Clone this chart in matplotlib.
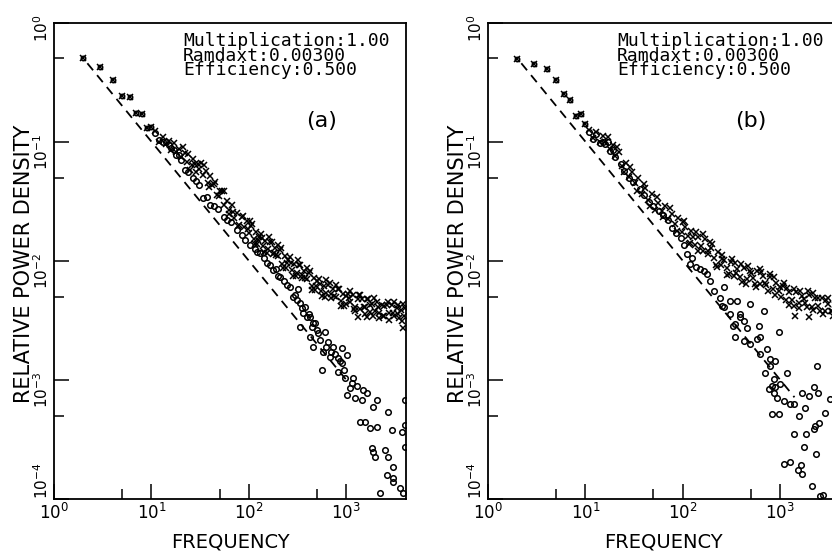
import matplotlib
matplotlib.use("Agg")
import matplotlib.pyplot as plt
from matplotlib.ticker import LogLocator, NullFormatter

plt.rcParams['mathtext.fontset'] = 'dejavusans'

# ---------------- panel (a) ----------------
# lowest frequencies: both symbols lie on top of each other
a_low_f = [2, 3, 4, 5, 6, 7, 8, 9, 10]
a_low_p = [0.50, 0.42, 0.33, 0.24, 0.235, 0.175, 0.17, 0.13, 0.132]

a_cross_f = [11, 12, 13, 14, 15, 16, 17, 18, 19, 20,
             22, 23, 24, 26, 27, 29, 30, 32, 34, 36,
             38, 40, 42, 45, 47, 50, 53, 56, 60, 63,
             67, 71, 75, 80, 85, 90, 95, 100, 106, 112,
             118, 125, 132, 140, 148, 157, 166, 176, 186, 197,
             209, 221, 234, 248, 262, 278, 294, 311, 330, 349,
             370, 392, 415, 440, 466, 493, 522, 553, 586, 620,
             657, 696, 737, 780, 826, 875, 927, 982, 1040, 1100,
             1165, 1235, 1308, 1385, 1467, 1553, 1645, 1742, 1845, 1954,
             2070, 2190, 2320, 2460, 2600, 2760, 2920, 3090, 3280, 3470,
             3680, 3900, 4050,
             21, 25, 28, 31, 35, 39, 44, 49, 55, 62,
             69, 77, 87, 97, 109, 122, 136, 152, 171, 191,
             214, 240, 269, 302, 338, 380, 426, 478, 536, 601,
             674, 756, 848, 951, 1067, 1197, 1342, 1506, 1690, 1895,
             2125, 2385, 2675, 3000, 3365, 3775,
             103, 115, 128, 144, 160, 180, 201, 225, 252, 283,
             316, 355, 397, 445, 498, 558, 625, 700, 784, 878,
             984, 1102, 1234, 1382, 1548, 1734, 1942, 2176, 2437, 2730,
             3058, 3425, 3836,
             1331, 1648, 3860]
a_cross_p = [0.123, 0.099, 0.109, 0.095, 0.102, 0.0857, 0.0975, 0.0822, 0.0875, 0.0741,
             0.0805, 0.0676, 0.0787, 0.0634, 0.0714, 0.0561, 0.0647, 0.0668, 0.0521, 0.0562,
             0.0451, 0.0513, 0.0435, 0.0461, 0.0357, 0.0382, 0.0384, 0.0292, 0.0318, 0.0267,
             0.0292, 0.023, 0.0251, 0.0198, 0.0231, 0.0191, 0.0215, 0.0172, 0.0194, 0.0152,
             0.0175, 0.015, 0.0169, 0.0132, 0.0146, 0.0125, 0.0145, 0.0113, 0.0128, 0.011,
             0.0124, 0.00948, 0.011, 0.00964, 0.0107, 0.00834, 0.00944, 0.00793, 0.00916, 0.0072,
             0.00815, 0.007, 0.00796, 0.00612, 0.00714, 0.00618, 0.00705, 0.00556, 0.00619, 0.00536,
             0.00629, 0.00489, 0.00574, 0.005, 0.00574, 0.00456, 0.00527, 0.00432, 0.00521, 0.00447,
             0.00516, 0.00412, 0.00476, 0.00392, 0.00475, 0.00408, 0.00473, 0.00371, 0.0043, 0.00378,
             0.00451, 0.00362, 0.00422, 0.00347, 0.00423, 0.00365, 0.00425, 0.00343, 0.004, 0.0033,
             0.00385, 0.00341, 0.00399,
             0.0895, 0.0578, 0.0655, 0.0594, 0.0635, 0.0419, 0.0442, 0.0349, 0.0385, 0.0248,
             0.0258, 0.0195, 0.0237, 0.0184, 0.0204, 0.0139, 0.0155, 0.0117, 0.0145, 0.0112,
             0.0128, 0.00877, 0.00955, 0.00738, 0.00925, 0.00713, 0.00822, 0.00573, 0.00635, 0.00497,
             0.00652, 0.00506, 0.00582, 0.00416, 0.00483, 0.00397, 0.0052, 0.00411, 0.00481, 0.00347,
             0.00409, 0.00341, 0.00451, 0.00361, 0.00427, 0.00313,
             0.0217, 0.0139, 0.0158, 0.0119, 0.0159, 0.0117, 0.0136, 0.00875, 0.0102, 0.00752,
             0.0101, 0.00762, 0.00873, 0.00569, 0.00675, 0.00505, 0.00689, 0.00522, 0.00628, 0.00416,
             0.00506, 0.00562, 0.00377, 0.00516, 0.00356, 0.00427, 0.00489, 0.00331, 0.00418, 0.00318,
             0.00453, 0.00354, 0.0043,
             0.00338, 0.00338, 0.00274]

a_circ_f = [11, 12, 13, 14, 15, 16, 17, 18, 19, 20,
            22, 27, 34, 40, 55, 76, 103, 131, 155, 178,
            210, 266, 286, 337, 362, 398, 428, 459, 481, 337,
            428, 517, 542, 655, 459, 582, 737, 912, 1026, 829,
            687, 912, 568, 829, 979, 1183, 1102, 1026, 1241, 1465,
            1500, 1648, 1900, 2089, 2710, 1396, 1571, 1770, 2089, 2978,
            3774, 4000, 4000, 4000, 1854, 1900, 1995, 2523, 2710, 3048,
            2645, 3048, 3048, 3597, 3860, 2240,
            24, 29, 31, 37, 44, 48, 60, 66, 85, 92,
            115, 120, 142, 165, 190, 200, 230, 245, 300, 310,
            320, 350, 380, 410, 440, 500, 600, 620, 700, 760,
            860, 950, 1150, 1300]
a_circ_p = [0.118, 0.104, 0.1, 0.1, 0.093, 0.088, 0.085, 0.078, 0.077, 0.07,
            0.0582, 0.0498, 0.0338, 0.0296, 0.0234, 0.0182, 0.0136, 0.0117, 0.0096, 0.0084,
            0.00734, 0.00605, 0.00498, 0.00444, 0.00366, 0.00338, 0.00338, 0.00301, 0.00301, 0.00279,
            0.0023, 0.00248, 0.00217, 0.00208, 0.00189, 0.00172, 0.00189, 0.00186, 0.00162, 0.00153,
            0.00156, 0.00139, 0.00121, 0.00117, 0.00104, 0.00104, 0.000857, 0.000748, 0.000706, 0.000679,
            0.000824, 0.000778, 0.000593, 0.000679, 0.000538, 0.000444, 0.000444, 0.000395, 0.000403, 0.00038,
            0.000366, 0.00068, 0.00042, 0.000274, 0.000268, 0.000248, 0.000225, 0.000258, 0.000225, 0.000186,
            0.000159, 0.00015, 0.000139, 0.000124, 0.000112, 0.000112,
            0.056, 0.047, 0.043, 0.034, 0.029, 0.027, 0.022, 0.021, 0.0165, 0.015,
            0.0125, 0.0118, 0.0105, 0.0092, 0.0085, 0.0075, 0.0068, 0.0063, 0.0052, 0.0047,
            0.0058, 0.004, 0.0041, 0.0036, 0.0028, 0.0026, 0.0025, 0.0019, 0.0017, 0.00165,
            0.00145, 0.0012, 0.00095, 0.00088]

a_dash_f = [2.2, 1000]
a_dash_p = [0.455, 0.001]

# ---------------- panel (b) ----------------
b_low_f = [2, 3, 4, 5, 6, 7, 8, 9, 10]
b_low_p = [0.495, 0.45, 0.41, 0.33, 0.25, 0.225, 0.165, 0.17, 0.141]

b_cross_f = [11, 12, 13, 14, 15, 16, 17, 18, 19, 20,
             22, 24, 26, 28, 30, 32, 35, 38, 41, 44,
             48, 52, 56, 61, 66, 71, 77, 83, 90, 97,
             105, 113, 122, 132, 143, 155, 167, 180, 195, 210,
             227, 245, 265, 286, 309, 334, 360, 389, 420, 454,
             490, 529, 572, 617, 667, 720, 778, 840, 907, 980,
             1058, 1143, 1234, 1333, 1440, 1555, 1679, 1813, 1958, 2115,
             2284, 2467, 2664, 2877, 3107, 3356, 3625, 3915, 4050,
             21, 25, 29, 34, 40, 46, 54, 63, 74, 87,
             101, 118, 138, 161, 188, 219, 255, 298, 347, 405,
             472, 550, 641, 747, 871, 1015, 1183, 1379, 1608, 1874,
             2185, 2548, 2970, 3463, 4000,
             103, 115, 128, 144, 160, 180, 201, 225, 252, 283,
             316, 355, 397, 445, 498, 558, 625, 700, 784, 878,
             984, 1102, 1234, 1382, 1548, 1734, 1942, 2176, 2437, 2730,
             3058, 3425, 3836,
             1430, 1977]
b_cross_p = [0.126, 0.108, 0.121, 0.0998, 0.111, 0.0991, 0.109, 0.0873, 0.0944, 0.076,
             0.0817, 0.0621, 0.0664, 0.0509, 0.0555, 0.0451, 0.0491, 0.0365, 0.0406, 0.0324,
             0.0361, 0.0269, 0.0308, 0.026, 0.029, 0.0224, 0.0247, 0.0203, 0.0228, 0.0174,
             0.0191, 0.016, 0.0177, 0.0135, 0.0157, 0.0132, 0.0151, 0.0115, 0.0127, 0.0105,
             0.0119, 0.00916, 0.0102, 0.00869, 0.00977, 0.00743, 0.00855, 0.00733, 0.00871, 0.007,
             0.00813, 0.0071, 0.00817, 0.00635, 0.00741, 0.00627, 0.00728, 0.00574, 0.00653, 0.00556,
             0.00619, 0.00466, 0.00543, 0.00465, 0.00548, 0.00438, 0.00506, 0.00446, 0.0052, 0.00411,
             0.00491, 0.00421, 0.00486, 0.0038, 0.00434, 0.00378, 0.00427, 0.0034, 0.00389,
             0.0906, 0.0551, 0.0618, 0.0385, 0.0445, 0.029, 0.0346, 0.0232, 0.028, 0.0178,
             0.0211, 0.014, 0.0175, 0.012, 0.0143, 0.00927, 0.0112, 0.00774, 0.00957, 0.00665,
             0.00897, 0.0064, 0.00807, 0.00562, 0.00729, 0.00495, 0.00587, 0.0042, 0.0056, 0.00406,
             0.00541, 0.00378, 0.00471, 0.00343, 0.00437,
             0.0217, 0.0137, 0.0158, 0.0121, 0.0167, 0.012, 0.0139, 0.00889, 0.0103, 0.00762,
             0.0103, 0.00787, 0.00942, 0.0064, 0.00791, 0.00608, 0.00853, 0.00649, 0.00778, 0.00514,
             0.00608, 0.00646, 0.00422, 0.00579, 0.004, 0.00479, 0.00558, 0.00383, 0.00486, 0.00356,
             0.00489, 0.00377, 0.00451,
             0.00345, 0.00334]

b_circ_f = [11, 12, 13, 14, 15, 16, 17, 18, 19, 20, 23, 25,
            28, 31, 36, 40, 45, 50, 57, 63, 70, 78,
            86, 95, 103, 110, 119, 125, 135, 150, 165, 177,
            191, 207, 262, 243, 307, 360, 262, 307, 389, 493,
            676, 456, 600, 252, 331, 389, 345, 421, 963, 345,
            421, 493, 578, 625, 731, 625, 791, 891, 791, 703,
            1175, 2390, 855, 760, 823, 891, 1002, 927, 855, 1084,
            1270, 1373, 1675, 1960, 2206, 2425, 3270, 1812, 1545, 823,
            963, 2910, 2480, 2295, 2206, 1855, 1373, 1740, 2335, 1084,
            1270, 1636, 1524, 1675, 2123, 2755, 2580]
b_circ_p = [0.12, 0.106, 0.115, 0.097, 0.1, 0.095, 0.1, 0.083, 0.085, 0.074, 0.065, 0.057,
            0.05, 0.046, 0.04, 0.036, 0.031, 0.029, 0.026, 0.024, 0.022, 0.019,
            0.017, 0.0155, 0.0135, 0.0114, 0.0094, 0.0105, 0.0088, 0.0085, 0.0082, 0.0077,
            0.0068, 0.0056, 0.006, 0.0049, 0.0046, 0.0046, 0.0041, 0.00356, 0.00334, 0.0043,
            0.0038, 0.00275, 0.00284, 0.0042, 0.00284, 0.00356, 0.00294, 0.00313, 0.0025, 0.00227,
            0.00213, 0.002, 0.0022, 0.00227, 0.00181, 0.00164, 0.00149, 0.00145, 0.00131, 0.00115,
            0.00115, 0.00131, 0.00101, 0.000836, 0.00089, 0.000863, 0.00092, 0.00071, 0.00078, 0.00067,
            0.000625, 0.000625, 0.00078, 0.000734, 0.000863, 0.00078, 0.00069, 0.000586, 0.000499, 0.000515,
            0.000515, 0.000532, 0.000438, 0.00041, 0.000385, 0.000349, 0.000354, 0.000275, 0.000238, 0.000198,
            0.000206, 0.000193, 0.000174, 0.000161, 0.000129, 0.000107, 0.000106]

b_dash_f = [2.2, 1400]
b_dash_p = [0.455, 0.000714]

info_lines = ["Multiplication:1.00", "Ramdaxt:0.00300", "Efficiency:0.500"]
x_ticks = [1, 10, 100, 1000]
x_labels = ['$10^{0}$', '$10^{1}$', '$10^{2}$', '$10^{3}$']
y_ticks = [1, 0.1, 0.01, 0.001, 0.0001]
y_labels = ['$10^{0}$', '$10^{-1}$', '$10^{-2}$', '$10^{-3}$', '$10^{-4}$']


def draw_panel(ax, low_f, low_p, cross_f, cross_p, circ_f, circ_p,
               dash_f, dash_p, tag, tag_x):
    ax.plot(dash_f, dash_p, color='black', lw=1.3, dashes=(5, 3.5))
    ax.plot(cross_f, cross_p, 'x', ms=5, mew=1.1, color='black')
    ax.plot(circ_f, circ_p, 'o', ms=4, mew=1.1, mfc='none', color='black')
    ax.plot(low_f, low_p, 'x', ms=4, mew=1.1, color='black')
    ax.plot(low_f, low_p, 'o', ms=3.2, mew=1.1, mfc='none', color='black')

    ax.set_xscale('log')
    ax.set_yscale('log')
    ax.set_xlim(1, 4096)
    ax.set_ylim(1e-4, 1)
    ax.set_xticks(x_ticks, x_labels, fontsize=12)
    ax.set_yticks(y_ticks, y_labels, fontsize=11)
    ax.xaxis.set_minor_locator(LogLocator(base=10, subs=[5.0]))
    ax.yaxis.set_minor_locator(LogLocator(base=10, subs=[5.0]))
    ax.xaxis.set_minor_formatter(NullFormatter())
    ax.yaxis.set_minor_formatter(NullFormatter())
    ax.tick_params(which='major', direction='in', length=11, width=1.1,
                   top=False, right=False, pad=3)
    ax.tick_params(which='minor', direction='in', length=7, width=1.1,
                   top=False, right=False)
    ax.tick_params(axis='y', labelrotation=90, pad=2)
    # lowest y label sits above its tick, clear of the x labels
    ax.get_yticklabels()[-1].set_va('bottom')
    for sp in ax.spines.values():
        sp.set_linewidth(1.3)

    ax.set_xlabel("FREQUENCY", fontsize=14)
    ax.xaxis.set_label_coords(0.5, -0.071)
    ax.set_ylabel("RELATIVE POWER DENSITY", fontsize=15)
    ax.yaxis.set_label_coords(-0.057, 0.494)

    ax.text(0.366, 0.981, "\n".join(info_lines), transform=ax.transAxes,
            family='DejaVu Sans Mono', fontsize=13, va='top', ha='left',
            linespacing=0.78)
    ax.text(tag_x, 0.794, tag, transform=ax.transAxes, fontsize=16,
            ha='center', va='center')


fig = plt.figure(figsize=(8.32, 5.54), dpi=100)
ax_a = fig.add_axes([0.0649, 0.0993, 0.423, 0.860])
ax_b = fig.add_axes([0.5865, 0.0993, 0.423, 0.860])

draw_panel(ax_a, a_low_f, a_low_p, a_cross_f, a_cross_p, a_circ_f, a_circ_p,
           a_dash_f, a_dash_p, "(a)", 0.761)
draw_panel(ax_b, b_low_f, b_low_p, b_cross_f, b_cross_p, b_circ_f, b_circ_p,
           b_dash_f, b_dash_p, "(b)", 0.747)

fig.savefig("out.png", dpi=100)
